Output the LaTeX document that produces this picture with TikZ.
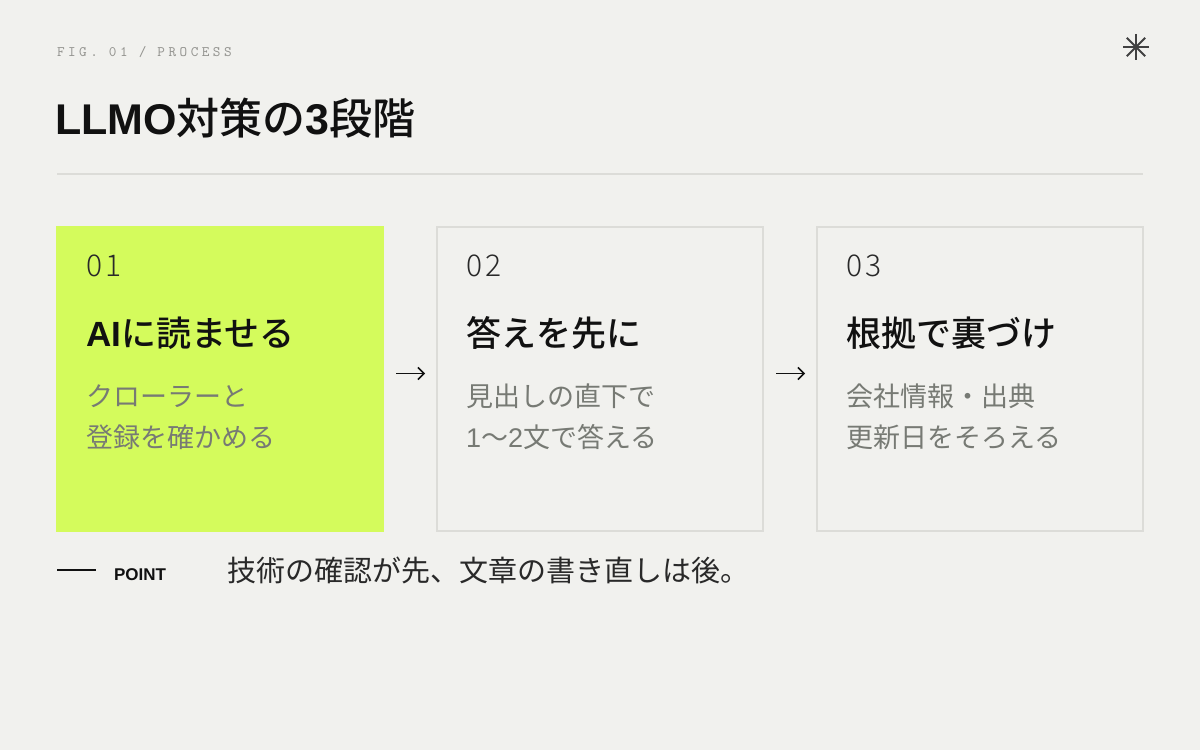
\documentclass[tikz,border=0pt]{standalone}
\usepackage{fontspec}
\setmainfont{Liberation Sans}
\newfontfamily\jp{Noto Sans CJK JP}
\newfontfamily\jpmed{Noto Sans CJK JP Medium}
\newfontfamily\monofig[LetterSpace=24]{lmmono10-regular.otf}
\newfontfamily\mononum[LetterSpace=11]{Noto Sans CJK JP Light}
\usepackage{tikz}
\usetikzlibrary{arrows.meta, positioning}
\definecolor{paper}{HTML}{F1F1EE}
\definecolor{lime}{HTML}{D4FB5C}
\definecolor{frame}{HTML}{DCDCD8}
\definecolor{ink}{HTML}{111111}
\definecolor{soft}{HTML}{777A74}
\definecolor{faint}{HTML}{949490}

\begin{document}
\begin{tikzpicture}[x=1pt,y=1pt]
    \tikzstyle{every node} = [inner sep=0pt, outer sep=0pt]
    \tikzstyle{card} = [draw=frame, line width=2pt, fill=paper, minimum width=326pt, minimum height=304pt]
    \tikzstyle{num} = [anchor=west, text=ink!90, font=\mononum\fontsize{30}{32}\selectfont]
    \tikzstyle{head} = [anchor=west, text=ink, font=\jpmed\fontsize{35}{40}\selectfont]
    \tikzstyle{body} = [anchor=west, align=left, text=soft, font=\jp\fontsize{27}{41}\selectfont]
    \tikzstyle{flow} = [-{Straight Barb[length=6pt,width=12pt]}, line width=1.5pt, draw=ink, shorten <=13pt, shorten >=12pt]
    \fill[paper] (0,0) rectangle (1200,750);
    % header
    \node[anchor=west, text=faint, font=\monofig\fontsize{14.5}{16}\selectfont] (figlbl) at (57,698) {FIG. 01 / PROCESS};
    \node[anchor=west, text=ink, font=\bfseries\fontsize{43}{48}\selectfont] (title) at (55,632) {LLMO{\jpmed\mdseries 対策の}3{\jpmed\mdseries 段階}};
    \coordinate (star) at (1136,703);
    \foreach \a in {0,45,90,135}
        \draw[ink!80, line width=1.8pt] (star) ++(\a:13) -- ++(\a+180:26);
    \draw[frame, line width=2pt] (57,576) -- (1143,576);
    % place nodes
    \node[card, draw=lime, fill=lime] (c1) at (220,371) {};
    \node[card, right=54pt of c1] (c2) {};
    \node[card, right=54pt of c2] (c3) {};
    \node[num] (n1) at ([xshift=29pt,yshift=-39pt]c1.north west) {01};
    \node[head] (h1) at ([xshift=29pt,yshift=-106pt]c1.north west) {{\rmfamily\bfseries AI}に読ませる};
    \node[body] (b1) at ([xshift=29pt,yshift=-190pt]c1.north west) {クローラーと\\登録を確かめる};
    \node[num] (n2) at ([xshift=29pt,yshift=-39pt]c2.north west) {02};
    \node[head] (h2) at ([xshift=29pt,yshift=-106pt]c2.north west) {答えを先に};
    \node[body] (b2) at ([xshift=29pt,yshift=-190pt]c2.north west) {見出しの直下で\\{\rmfamily 1}〜{\rmfamily 2}文で答える};
    \node[num] (n3) at ([xshift=29pt,yshift=-39pt]c3.north west) {03};
    \node[head] (h3) at ([xshift=29pt,yshift=-106pt]c3.north west) {根拠で裏づけ};
    \node[body] (b3) at ([xshift=29pt,yshift=-190pt]c3.north west) {会社情報・出典\\更新日をそろえる};
    % Connections
    \draw[flow] ([yshift=5.5pt]c1.east) -- ([yshift=5.5pt]c2.west);
    \draw[flow] ([yshift=5.5pt]c2.east) -- ([yshift=5.5pt]c3.west);
    % point row
    \coordinate (pointL) at (57,180);
    \draw[ink, line width=1.5pt] (pointL) -- ++(39,0);
    \node[anchor=west, text=ink, font=\bfseries\fontsize{17}{20}\selectfont] (pointlbl) at (114,175) {POINT};
    \node[anchor=west, text=ink!90, font=\jp\fontsize{29}{34}\selectfont] (pointtxt) at (227,180) {技術の確認が先、文章の書き直しは後。};
\end{tikzpicture}
\end{document}
